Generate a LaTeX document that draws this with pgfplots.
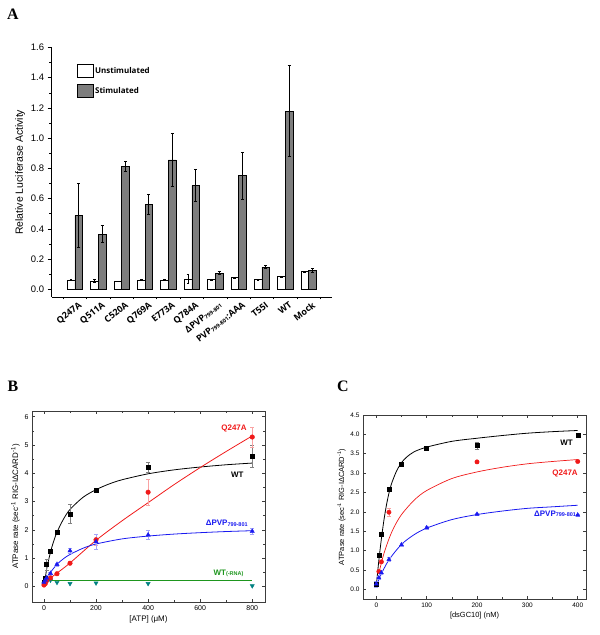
\documentclass[border=0pt]{standalone}
\usepackage{pgfplots}
\pgfplotsset{compat=1.18}
\usepackage{pgfplotstable}
\usepackage{fontspec}
\setmainfont{Liberation Sans}
\newfontfamily\osans{Open Sans}
\newfontfamily\tnr{Liberation Serif}
\definecolor{barg}{RGB}{125,125,125}
\definecolor{myred}{RGB}{240,25,25}
\definecolor{myblue}{RGB}{25,25,240}
\definecolor{mygreen}{RGB}{30,150,30}
\definecolor{myteal}{RGB}{0,128,128}
\definecolor{axgray}{RGB}{60,60,60}
\newcommand{\lbl}[1]{\raisebox{-0.6bp}{\fontsize{5.5}{6}\selectfont #1}}

\pgfplotstableread{
x U Ue S Se
1 0.062 0.003 0.488 0.212
2 0.057 0.008 0.366 0.058
3 0.053 0.000 0.812 0.034
4 0.062 0.004 0.561 0.068
5 0.062 0.003 0.856 0.178
6 0.068 0.030 0.687 0.104
7 0.064 0.004 0.108 0.010
8 0.079 0.003 0.753 0.155
9 0.066 0.003 0.148 0.010
10 0.086 0.003 1.179 0.300
11 0.119 0.003 0.124 0.012
}\dataA

\pgfplotstableread{
x y e
0 0.15 0.03
5 0.30 0.05
10 0.78 0.20
25 1.25 0.08
50 1.92 0.08
100 2.56 0.33
200 3.40 0.05
400 4.20 0.18
800 4.60 0.40
}\BWT
\pgfplotstableread{
x y e
0 0.05 0.02
5 0.10 0.02
10 0.20 0.03
25 0.30 0.04
50 0.45 0.05
100 0.82 0.05
200 1.65 0.20
400 3.33 0.45
800 5.28 0.35
}\BQ
\pgfplotstableread{
x y e
0 0.15 0.03
5 0.22 0.03
10 0.30 0.04
25 0.46 0.05
50 0.78 0.05
100 1.26 0.10
200 1.58 0.25
400 1.82 0.15
800 1.95 0.12
}\BP
\pgfplotstableread{
x y
0 0.10
5 0.15
10 0.18
25 0.22
50 0.14
100 0.10
200 0.12
400 0.10
800 0.02
}\BR

\pgfplotstableread{
x y e
0 0.14 0.03
5 0.87 0.03
10 1.43 0.03
25 2.58 0.04
50 3.24 0.03
100 3.63 0.03
200 3.71 0.10
400 3.98 0.04
}\CWT
\pgfplotstableread{
x y e
5 0.46 0.03
10 0.71 0.03
25 1.99 0.10
200 3.29 0.03
400 3.30 0.03
}\CQ
\pgfplotstableread{
x y e
0 0.14 0.08
5 0.30 0.03
10 0.43 0.03
25 0.77 0.05
50 1.15 0.03
100 1.59 0.04
200 1.94 0.03
400 1.92 0.03
}\CP

\begin{document}
\begin{tikzpicture}
% ---------------- Panel A ----------------
\begin{axis}[
  at={(51.6bp,338bp)}, anchor=south west, scale only axis,
  width=280.4bp, height=249.5bp,
  xmin=0, xmax=12, ymin=-0.05, ymax=1.6,
  axis x line*=bottom, axis y line*=left,
  axis line style={line width=0.8pt, black},
  xtick={1,...,11},
  xticklabels={Q247A,Q511A,C520A,Q769A,E773A,Q784A,{ΔPVP\lbl{799-801}},{PVP\lbl{799-801}:AAA},T55I,WT,Mock},
  major x tick style={draw=none},
  minor xtick={0.5,1.5,...,11.5},
  xticklabel style={font=\osans\bfseries\fontsize{9}{9}\selectfont, rotate=38, anchor=north east, inner sep=0.5bp, xshift=3bp, yshift=-1.5bp},
  ytick={0,0.2,0.4,0.6,0.8,1.0,1.2,1.4,1.6},
  minor ytick={0.1,0.3,0.5,0.7,0.9,1.1,1.3,1.5},
  yticklabel style={font=\fontsize{9.5}{10}\selectfont, /pgf/number format/.cd, fixed, fixed zerofill, precision=1, assume math mode=true},
  tick align=outside,
  major tick length=4bp, minor tick length=2.5bp,
  tick style={black, line width=0.7pt},
  ylabel={Relative Luciferase Activity},
  ylabel style={font=\fontsize{10.5}{12}\selectfont, yshift=-1bp},
  legend style={at={(rel axis cs:0.09,0.935)}, anchor=north west, draw=none, fill=none,
    font=\osans\bfseries\fontsize{8}{9}\selectfont, row sep=6bp, inner sep=0pt,
    /tikz/every even column/.append style={column sep=8bp}},
  legend cell align=left,
]
\addlegendimage{legend image code/.code={\draw[fill=white,draw=black,line width=0.6pt] (0bp,-6.7bp) rectangle (15.5bp,6.7bp);}}
\addlegendentry{Unstimulated}
\addlegendimage{legend image code/.code={\draw[fill=barg,draw=black,line width=0.6pt] (0bp,-6.7bp) rectangle (15.5bp,6.7bp);}}
\addlegendentry{Stimulated}
\addplot[forget plot, ybar, bar width=0.33, bar shift=-0.165, fill=white, draw=black, line width=0.6pt]
  table[x=x,y=U]{\dataA};
\addplot[forget plot, ybar, bar width=0.33, bar shift=0.165, fill=barg, draw=black, line width=0.6pt]
  table[x=x,y=S]{\dataA};
\addplot[forget plot, draw=none, mark=none,
  error bars/.cd, y dir=both, y explicit, error bar style={draw=black,line width=0.7pt}, error mark options={rotate=90, mark size=1.3bp, draw=black, line width=0.7pt}]
  table[x expr=\thisrow{x}-0.165,y=U,y error=Ue]{\dataA};
\addplot[forget plot, draw=none, mark=none,
  error bars/.cd, y dir=both, y explicit, error bar style={draw=black,line width=0.9pt}, error mark options={rotate=90, mark size=1.5bp, draw=black, line width=0.9pt}]
  table[x expr=\thisrow{x}+0.165,y=S,y error=Se]{\dataA};
\end{axis}

% ---------------- Panel B ----------------
\begin{axis}[
  at={(32bp,33bp)}, anchor=south west, scale only axis,
  width=233bp, height=191bp,
  xmin=-46, xmax=849, ymin=-0.55, ymax=6.2,
  xtick={0,200,400,600,800}, minor x tick num=1,
  ytick={0,1,2,3,4,5,6}, minor y tick num=1,
  tick align=inside, tick pos=both,
  major tick length=3bp, minor tick length=1.8bp,
  axis line style={axgray, line width=0.6pt}, tick style={axgray, line width=0.5pt},
  tick label style={font=\fontsize{7}{8}\selectfont, /pgf/number format/assume math mode=true},
  xlabel={[ATP] (μM)},
  ylabel={ATPase rate (sec\textsuperscript{-1} RIG-IΔCARD\textsuperscript{-1})},
  label style={font=\fontsize{8}{9}\selectfont},
  xlabel style={yshift=2bp},
  ylabel style={yshift=-2bp},
]
\addplot[mygreen, line width=0.9pt] coordinates {(0,0.22) (800,0.22)};
\addplot[black, line width=0.8pt, smooth] coordinates {(0,0.12) (5,0.3) (10,0.6) (20,1.02) (30,1.38) (40,1.67) (50,1.92) (75,2.38) (100,2.72) (150,3.15) (200,3.42) (250,3.62) (300,3.77) (400,3.98) (500,4.12) (600,4.22) (700,4.3) (800,4.36)};
\addplot[myred, line width=0.8pt, smooth] coordinates {(0,0.1) (25,0.3) (50,0.47) (100,0.83) (200,1.63) (300,2.32) (400,2.96) (500,3.6) (600,4.2) (700,4.77) (800,5.32)};
\addplot[myblue, line width=0.8pt, smooth] coordinates {(0,0.15) (10,0.3) (25,0.5) (50,0.78) (75,0.98) (100,1.13) (150,1.35) (200,1.5) (300,1.68) (400,1.78) (500,1.85) (600,1.9) (700,1.94) (800,1.97)};
\addplot[only marks, mark=triangle*, mark options={rotate=180}, mark size=2.4bp, myteal] table[x=x,y=y]{\BR};
\addplot[only marks, mark=square*, mark size=2.1bp, black,
  error bars/.cd, y dir=both, y explicit, error bar style={gray}, error mark options={rotate=90, gray, mark size=2bp}] table[x=x,y=y,y error=e]{\BWT};
\addplot[only marks, mark=*, mark size=2.3bp, myred,
  error bars/.cd, y dir=both, y explicit, error bar style={myred!40}, error mark options={rotate=90, myred!40, mark size=2bp}] table[x=x,y=y,y error=e]{\BQ};
\addplot[only marks, mark=triangle*, mark size=2.5bp, myblue,
  error bars/.cd, y dir=both, y explicit, error bar style={myblue!40}, error mark options={rotate=90, myblue!40, mark size=2bp}] table[x=x,y=y,y error=e]{\BP};
\node[font=\bfseries\fontsize{8}{9}\selectfont, text=myred] at (axis cs:730,5.57) {Q247A};
\node[font=\bfseries\fontsize{8}{9}\selectfont, text=black] at (axis cs:743,3.96) {WT};
\node[font=\bfseries\fontsize{8}{9}\selectfont, text=myblue] at (axis cs:702,2.24) {ΔPVP\lbl{799-801}};
\node[font=\bfseries\fontsize{8}{9}\selectfont, text=mygreen] at (axis cs:709,0.47) {WT\lbl{(-RNA)}};
\end{axis}

% ---------------- Panel C ----------------
\begin{axis}[
  at={(363bp,36bp)}, anchor=south west, scale only axis,
  width=223bp, height=184bp,
  xmin=-26.5, xmax=416.5, ymin=-0.25, ymax=4.5,
  xtick={0,100,200,300,400}, minor x tick num=1,
  ytick={0,0.5,1,1.5,2,2.5,3,3.5,4,4.5},
  tick align=inside, tick pos=both,
  major tick length=3bp, minor tick length=1.8bp,
  axis line style={axgray, line width=0.6pt}, tick style={axgray, line width=0.5pt},
  tick label style={font=\fontsize{6.5}{8}\selectfont, /pgf/number format/assume math mode=true},
  yticklabel style={/pgf/number format/.cd, fixed, fixed zerofill, precision=1},
  xlabel={[dsGC10] (nM)},
  ylabel={ATPase rate (sec\textsuperscript{-1} RIG-IΔCARD\textsuperscript{-1})},
  label style={font=\fontsize{7.5}{9}\selectfont},
  xlabel style={yshift=2bp},
  ylabel style={yshift=-2bp},
]
\addplot[black, line width=0.8pt, smooth] coordinates {(0,0.1) (5,0.75) (10,1.3) (15,1.78) (20,2.17) (25,2.48) (30,2.72) (40,3.05) (50,3.27) (60,3.41) (75,3.55) (100,3.67) (150,3.82) (200,3.9) (250,3.97) (300,4.03) (350,4.07) (400,4.1)};
\addplot[myred, line width=0.7pt, smooth] coordinates {(5,0.42) (10,0.68) (15,0.92) (25,1.3) (35,1.6) (50,1.93) (75,2.3) (100,2.55) (150,2.86) (200,3.03) (250,3.15) (300,3.24) (350,3.3) (400,3.35)};
\addplot[myblue, line width=0.8pt, smooth] coordinates {(0,0.1) (5,0.25) (10,0.4) (25,0.76) (50,1.16) (75,1.41) (100,1.58) (150,1.8) (200,1.93) (250,2.02) (300,2.09) (350,2.13) (400,2.17)};
\addplot[only marks, mark=square*, mark size=2bp, black,
  error bars/.cd, y dir=both, y explicit, error bar style={gray}, error mark options={rotate=90, gray, mark size=2bp}] table[x=x,y=y,y error=e]{\CWT};
\addplot[only marks, mark=*, mark size=2.2bp, myred,
  error bars/.cd, y dir=both, y explicit, error bar style={myred!40}, error mark options={rotate=90, myred!40, mark size=2bp}] table[x=x,y=y,y error=e]{\CQ};
\addplot[only marks, mark=triangle*, mark size=2.4bp, myblue,
  error bars/.cd, y dir=both, y explicit, error bar style={myblue!40}, error mark options={rotate=90, myblue!40, mark size=2bp}] table[x=x,y=y,y error=e]{\CP};
\node[font=\bfseries\fontsize{8}{9}\selectfont, text=black] at (axis cs:378,3.79) {WT};
\node[font=\bfseries\fontsize{8}{9}\selectfont, text=myred] at (axis cs:375,2.99) {Q247A};
\node[font=\bfseries\fontsize{8}{9}\selectfont, text=myblue] at (axis cs:355,1.95) {ΔPVP\lbl{799-801}};
\end{axis}

\node[font=\tnr\bfseries\fontsize{16}{16}\selectfont] at (13bp,621bp) {A};
\node[font=\tnr\bfseries\fontsize{16}{16}\selectfont] at (13bp,249bp) {B};
\node[font=\tnr\bfseries\fontsize{16}{16}\selectfont] at (343bp,249bp) {C};

\pgfresetboundingbox
\path[use as bounding box] (0,0) rectangle (600bp,635bp);
\end{tikzpicture}
\end{document}
